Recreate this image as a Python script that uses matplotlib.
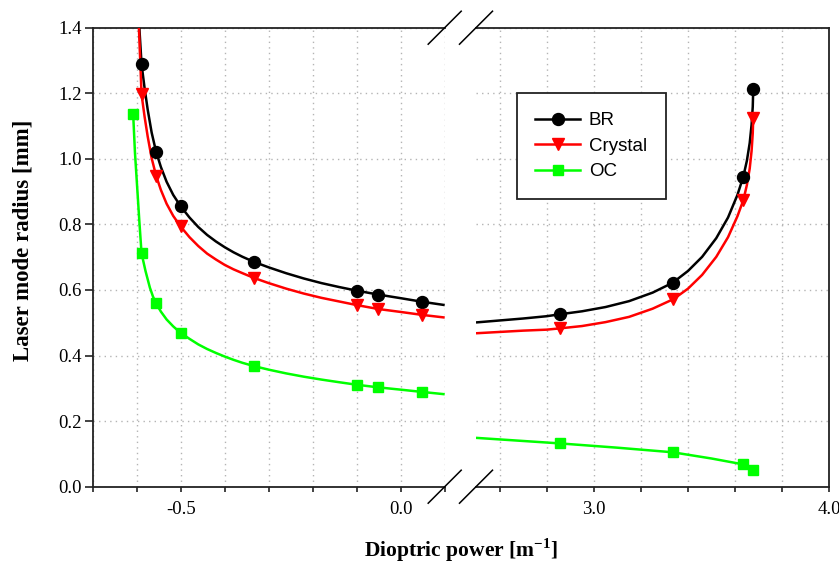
import matplotlib
matplotlib.use("Agg")
import matplotlib.pyplot as plt
from matplotlib.ticker import MultipleLocator, FixedLocator, FormatStrFormatter
from matplotlib.lines import Line2D

plt.rcParams['font.family'] = ['Liberation Serif', 'DejaVu Serif']
plt.rcParams['axes.unicode_minus'] = False
plt.rcParams['mathtext.fontset'] = 'custom'
plt.rcParams['mathtext.rm'] = 'Liberation Serif'
plt.rcParams['mathtext.bf'] = 'Liberation Serif:bold'

# ---------------- data: measured points ----------------
labels = ["BR", "Crystal", "OC"]
colors = ["#000000", "#ff0000", "#00ff00"]
markers = ["o", "v", "s"]

left_x = [-0.589, -0.556, -0.500, -0.334, -0.100, -0.051, 0.049]
br_left_y = [1.289, 1.022, 0.857, 0.686, 0.598, 0.586, 0.564]
cr_left_y = [1.197, 0.949, 0.795, 0.637, 0.554, 0.542, 0.524]
oc_left_x = [-0.608, -0.589, -0.556, -0.500, -0.334, -0.100, -0.051, 0.049]
oc_left_y = [1.136, 0.712, 0.559, 0.470, 0.368, 0.311, 0.303, 0.289]

right_x = [2.857, 3.335, 3.635, 3.677]
br_right_y = [0.526, 0.622, 0.946, 1.212]
cr_right_y = [0.483, 0.572, 0.874, 1.124]
oc_right_y = [0.132, 0.105, 0.068, 0.051]

# ---------------- data: fitted curves ----------------
br_curve_left_x = [-0.594, -0.589, -0.582, -0.575, -0.566, -0.556, -0.545, -0.532, -0.517, -0.501,
                   -0.48, -0.46, -0.44, -0.42, -0.40, -0.38, -0.36, -0.334, -0.30, -0.26, -0.22,
                   -0.18, -0.14, -0.100, -0.051, 0.0, 0.049, 0.1]
br_curve_left_y = [1.40, 1.289, 1.215, 1.150, 1.080, 1.022, 0.975, 0.930, 0.890, 0.857,
                   0.821, 0.792, 0.768, 0.748, 0.7305, 0.715, 0.7015, 0.686, 0.669, 0.651, 0.635,
                   0.621, 0.609, 0.598, 0.586, 0.575, 0.564, 0.554]
cr_curve_left_x = [-0.595, -0.592, -0.589, -0.582, -0.575, -0.566, -0.556, -0.545, -0.532, -0.517,
                   -0.501, -0.48, -0.46, -0.44, -0.42, -0.40, -0.38, -0.36, -0.334, -0.30, -0.26,
                   -0.22, -0.18, -0.14, -0.100, -0.051, 0.0, 0.049, 0.1]
cr_curve_left_y = [1.40, 1.30, 1.197, 1.128, 1.068, 1.002, 0.949, 0.905, 0.863, 0.826,
                   0.795, 0.761, 0.734, 0.711, 0.693, 0.6765, 0.663, 0.6515, 0.637, 0.621, 0.604,
                   0.589, 0.576, 0.565, 0.554, 0.542, 0.533, 0.524, 0.516]
oc_curve_left_x = [-0.608, -0.604, -0.599, -0.594, -0.589, -0.580, -0.570, -0.563, -0.556, -0.545,
                   -0.532, -0.517, -0.501, -0.48, -0.46, -0.44, -0.42, -0.40, -0.38, -0.36, -0.334,
                   -0.30, -0.26, -0.22, -0.18, -0.14, -0.100, -0.051, 0.0, 0.049, 0.1]
oc_curve_left_y = [1.136, 1.02, 0.915, 0.81, 0.712, 0.658, 0.607, 0.580, 0.559, 0.534,
                   0.510, 0.489, 0.470, 0.451, 0.434, 0.420, 0.408, 0.397, 0.387, 0.378, 0.368,
                   0.357, 0.3455, 0.3355, 0.3267, 0.3187, 0.311, 0.303, 0.296, 0.289, 0.282]

br_curve_right_x = [2.5, 2.6, 2.7, 2.8, 2.857, 2.95, 3.05, 3.15, 3.25, 3.335, 3.40, 3.46, 3.52,
                    3.57, 3.61, 3.635, 3.650, 3.662, 3.670, 3.675, 3.677]
br_curve_right_y = [0.501, 0.507, 0.513, 0.520, 0.526, 0.535, 0.548, 0.566, 0.592, 0.622, 0.658,
                    0.701, 0.758, 0.821, 0.890, 0.946, 0.994, 1.048, 1.104, 1.159, 1.212]
cr_curve_right_x = [2.5, 2.6, 2.7, 2.8, 2.857, 2.95, 3.05, 3.15, 3.25, 3.338, 3.40, 3.46, 3.52,
                    3.57, 3.61, 3.635, 3.650, 3.662, 3.670, 3.675, 3.677]
cr_curve_right_y = [0.468, 0.472, 0.476, 0.479, 0.483, 0.490, 0.502, 0.518, 0.543, 0.572, 0.604,
                    0.646, 0.701, 0.761, 0.825, 0.874, 0.920, 0.970, 1.024, 1.078, 1.124]
oc_curve_right_x = [2.5, 2.857, 3.1, 3.335, 3.5, 3.635, 3.677]
oc_curve_right_y = [0.149, 0.132, 0.119, 0.105, 0.086, 0.068, 0.051]

yticks = [0.0, 0.2, 0.4, 0.6, 0.8, 1.0, 1.2, 1.4]

# ---------------- figure ----------------
W, H = 839, 563
fig = plt.figure(figsize=(W / 100, H / 100), dpi=100)
bottom = 1 - 486.7 / H
height = 459 / H
axL = fig.add_axes([92.7 / W, bottom, 352 / W, height])
axR = fig.add_axes([476 / W, bottom, 353.3 / W, height])

lw = 1.8
ms = {"o": 8.6, "v": 8.6, "s": 7.6}

# left panel
for cx, cy, c in [(br_curve_left_x, br_curve_left_y, colors[0]),
                  (cr_curve_left_x, cr_curve_left_y, colors[1]),
                  (oc_curve_left_x, oc_curve_left_y, colors[2])]:
    axL.plot(cx, cy, '-', color=c, lw=lw, zorder=3, solid_capstyle='butt', solid_joinstyle='round')
for px, py, c, m in [(left_x, br_left_y, colors[0], markers[0]),
                     (left_x, cr_left_y, colors[1], markers[1]),
                     (oc_left_x, oc_left_y, colors[2], markers[2])]:
    axL.plot(px, py, linestyle='none', marker=m, ms=ms[m], color=c, mec=c, zorder=4, clip_on=False)

# right panel
for cx, cy, c in [(br_curve_right_x, br_curve_right_y, colors[0]),
                  (cr_curve_right_x, cr_curve_right_y, colors[1]),
                  (oc_curve_right_x, oc_curve_right_y, colors[2])]:
    axR.plot(cx, cy, '-', color=c, lw=lw, zorder=3, solid_capstyle='butt', solid_joinstyle='round')
for py, c, m in [(br_right_y, colors[0], markers[0]),
                 (cr_right_y, colors[1], markers[1]),
                 (oc_right_y, colors[2], markers[2])]:
    axR.plot(right_x, py, linestyle='none', marker=m, ms=ms[m], color=c, mec=c, zorder=4, clip_on=False)

axL.set_xlim(-0.7, 0.1)
axR.set_xlim(2.5, 4.0)
for ax in (axL, axR):
    ax.set_ylim(0, 1.4)
    ax.yaxis.set_major_locator(FixedLocator(yticks))
    ax.grid(True, which='both', linestyle=(0, (1, 3)), color='#b4b4b4', lw=1.0, zorder=0)
    for s in ax.spines.values():
        s.set_linewidth(1.3)
        s.set_color('#222222')
    ax.tick_params(axis='x', which='both', direction='out', length=3.6, width=1.2,
                   labelsize=13.5, pad=7, colors='#222222', labelcolor='black')

axL.xaxis.set_major_locator(FixedLocator([-0.5, 0.0]))
axL.xaxis.set_minor_locator(MultipleLocator(0.1))
axL.xaxis.set_major_formatter(FormatStrFormatter('%.1f'))
axR.xaxis.set_major_locator(FixedLocator([3.0, 4.0]))
axR.xaxis.set_minor_locator(FixedLocator([2.6, 2.8, 3.2, 3.4, 3.6, 3.8]))
axR.xaxis.set_major_formatter(FormatStrFormatter('%.1f'))

axL.yaxis.set_major_formatter(FormatStrFormatter('%.1f'))
axL.tick_params(axis='y', direction='out', length=6, width=1.2, labelsize=13.5, pad=2,
                colors='#222222', labelcolor='black')
axR.tick_params(axis='y', left=False, labelleft=False)

axL.spines['right'].set_visible(False)
axR.spines['left'].set_visible(False)

# break marks
dxL, dyL = 16.5 / 352, 16.5 / 459
dxR = 16.5 / 353.3
for yb in (0, 1):
    axL.plot([1 - dxL, 1 + dxL], [yb - dyL, yb + dyL], transform=axL.transAxes,
             color='black', lw=1.1, clip_on=False, zorder=5)
    axR.plot([-dxR, dxR], [yb - dyL, yb + dyL], transform=axR.transAxes,
             color='black', lw=1.1, clip_on=False, zorder=5)

axL.set_ylabel('Laser mode radius [mm]', fontsize=16.5, fontweight='bold')
axL.yaxis.set_label_coords(-0.168, 0.537)
fig.text((92.7 + 829.3) / 2 / W, 1 - 556.7 / H, r'Dioptric power [m$^{\mathbf{-1}}$]',
         ha='center', va='baseline', fontsize=15.5, fontweight='bold')

handles = [Line2D([], [], color=c, lw=lw, marker=m, ms=ms[m], mec=c) for c, m in zip(colors, markers)]
leg = axR.legend(handles, labels, loc='upper left', bbox_to_anchor=(0.115, 0.857),
                 prop={'family': 'Liberation Sans', 'size': 13.5}, frameon=True, fancybox=False,
                 framealpha=1, edgecolor='#222222', borderpad=1.0, handlelength=2.4,
                 handletextpad=0.45, labelspacing=0.45, borderaxespad=0)
leg.get_frame().set_linewidth(1.3)

fig.savefig('out.png', dpi=100)
